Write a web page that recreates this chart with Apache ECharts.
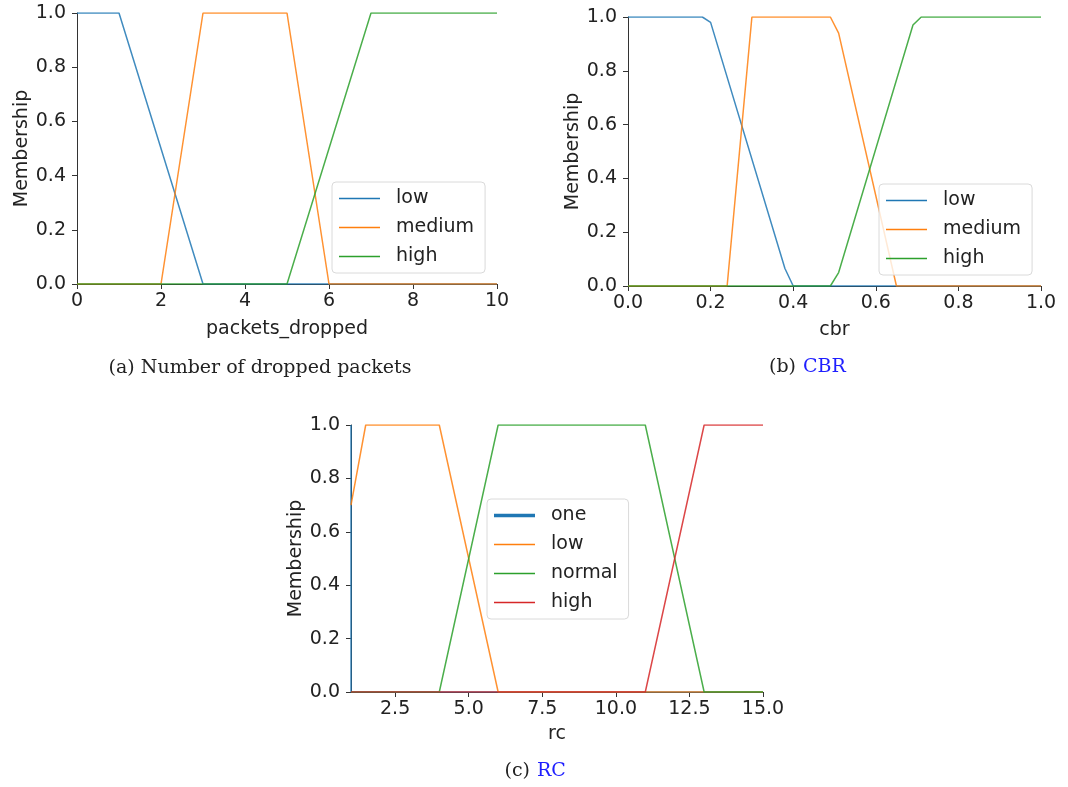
<!DOCTYPE html>
<html><head><meta charset="utf-8">
<script src="https://cdn.jsdelivr.net/npm/echarts@6/dist/echarts.min.js"></script>
<style>html,body{margin:0;padding:0;background:#fff}#c{width:1068px;height:787px}</style>
</head><body><div id="c"></div>
<script>
// (a) packets_dropped
const pdLow    = [[0,1],[1,1],[3,0],[10,0]];
const pdMedium = [[0,0],[2,0],[3,1],[5,1],[6,0],[10,0]];
const pdHigh   = [[0,0],[5,0],[7,1],[10,1]];
// (b) cbr
const cbrLow    = [[0,1],[0.18,1],[0.2,0.98],[0.38,0.065],[0.4,0],[1,0]];
const cbrMedium = [[0,0],[0.24,0],[0.3,1],[0.49,1],[0.51,0.94],[0.65,0],[1,0]];
const cbrHigh   = [[0,0],[0.49,0],[0.51,0.05],[0.69,0.97],[0.71,1],[1,1]];
// (c) rc
const rcOne    = [[1,1],[1.001,0],[15,0]];
const rcLow    = [[1,0.7],[1.5,1],[4,1],[6,0],[15,0]];
const rcNormal = [[1,0],[4,0],[6,1],[11,1],[13,0],[15,0]];
const rcHigh   = [[1,0],[11,0],[13,1],[15,1]];
// ticks
const rcTicks = [2.5,5,7.5,10,12.5,15];
const captionA = '(a) Number of dropped packets';
const captionB = ['(b)', 'CBR'];
const captionC = ['(c)', 'RC'];

const C = {blue:'#1f77b4', orange:'#ff7f0e', green:'#2ca02c', red:'#d62728'};
const TXT = '#222';
const FONT = 'DejaVu Sans';
const SERIF = '19px "DejaVu Serif"';
const LINK = '#1f1fff';
// legend icons: thin line centred in a 41x14 box (tiny corner dots fix the bbox)
const ICON_THIN  = 'path://M0,0h.01v.01h-.01z M0,6.25H41V7.75H0Z M40.99,13.99h.01v.01h-.01z';
const ICON_THICK = 'path://M0,0h.01v.01h-.01z M0,5.2H41V8.8H0Z M40.99,13.99h.01v.01h-.01z';

function line(name, data, color, idx){
  return {type:'line', name, data, xAxisIndex:idx, yAxisIndex:idx, symbol:'none', silent:true,
    lineStyle:{color, width:1.5, opacity:0.85}, itemStyle:{color}, animation:false};
}
function xAx(idx, min, max, interval, name, fmt, gap, custom){
  const o = {gridIndex:idx, type:'value', min, max, interval,
    axisLine:{show:true, lineStyle:{color:'#333', width:1}},
    axisTick:{show:true, length:5, lineStyle:{color:'#333'}},
    axisLabel:{fontSize:19, color:TXT, fontFamily:FONT, margin:8, formatter:fmt},
    splitLine:{show:false},
    name, nameLocation:'middle', nameGap:gap,
    nameTextStyle:{fontSize:19, color:TXT, fontFamily:FONT}};
  if (custom){ o.axisLabel.customValues = custom; o.axisTick.customValues = custom; delete o.interval; }
  return o;
}
function yAx(idx){
  return {gridIndex:idx, type:'value', min:0, max:1, interval:0.2,
    axisLine:{show:true, lineStyle:{color:'#333', width:1}},
    axisTick:{show:true, length:5, lineStyle:{color:'#333'}},
    axisLabel:{fontSize:19, color:TXT, fontFamily:FONT, margin:11, formatter:v=>v.toFixed(1)},
    splitLine:{show:false},
    name:'Membership', nameLocation:'middle', nameGap:45,
    nameTextStyle:{fontSize:19, color:TXT, fontFamily:FONT}};
}
function leg(data, left, top){
  return {data, left, top, orient:'vertical', itemWidth:41, itemHeight:14, itemGap:10,
    icon:ICON_THIN,
    padding:[7,11,7,7], borderColor:'#dadada', borderWidth:1, borderRadius:4,
    backgroundColor:'rgba(255,255,255,0.8)', selectedMode:false,
    textStyle:{fontSize:19, color:TXT, fontFamily:FONT, padding:[0,0,0,11]},
    formatter:n=>n.slice(2)};
}

const chart = echarts.init(document.getElementById('c'), null, {renderer:'canvas'});
chart.setOption({
  animation:false,
  backgroundColor:'#fff',
  grid:[
    {left:77, top:13, width:420, height:271},
    {left:628, top:17, width:413, height:269},
    {left:351, top:425, width:412, height:267}
  ],
  xAxis:[
    xAx(0, 0, 10, 2, 'packets_dropped', v=>String(v), 36),
    xAx(1, 0, 1, 0.2, 'cbr', v=>v.toFixed(1), 35),
    xAx(2, 1, 15, null, 'rc', v=>v.toFixed(1), 33, rcTicks)
  ],
  yAxis:[yAx(0), yAx(1), yAx(2)],
  legend:[
    leg(['a:low','a:medium','a:high'], 332, 182),
    leg(['b:low','b:medium','b:high'], 879, 184),
    leg([{name:'c:one', icon:ICON_THICK}, 'c:low','c:normal','c:high'], 487, 499)
  ],
  series:[
    line('a:low', pdLow, C.blue, 0),
    line('a:medium', pdMedium, C.orange, 0),
    line('a:high', pdHigh, C.green, 0),
    line('b:low', cbrLow, C.blue, 1),
    line('b:medium', cbrMedium, C.orange, 1),
    line('b:high', cbrHigh, C.green, 1),
    line('c:one', rcOne, C.blue, 2),
    line('c:low', rcLow, C.orange, 2),
    line('c:normal', rcNormal, C.green, 2),
    line('c:high', rcHigh, C.red, 2)
  ],
  graphic:[
    {type:'text', x:260, y:368, style:{text:captionA, font:SERIF, fill:TXT, textAlign:'center', textVerticalAlign:'middle'}},
    {type:'text', x:796, y:367, style:{text:captionB[0], font:SERIF, fill:TXT, textAlign:'right', textVerticalAlign:'middle'}},
    {type:'text', x:803, y:367, style:{text:captionB[1], font:SERIF, fill:LINK, textAlign:'left', textVerticalAlign:'middle'}},
    {type:'text', x:530, y:771, style:{text:captionC[0], font:SERIF, fill:TXT, textAlign:'right', textVerticalAlign:'middle'}},
    {type:'text', x:537, y:771, style:{text:captionC[1], font:SERIF, fill:LINK, textAlign:'left', textVerticalAlign:'middle'}}
  ]
});
</script></body></html>
